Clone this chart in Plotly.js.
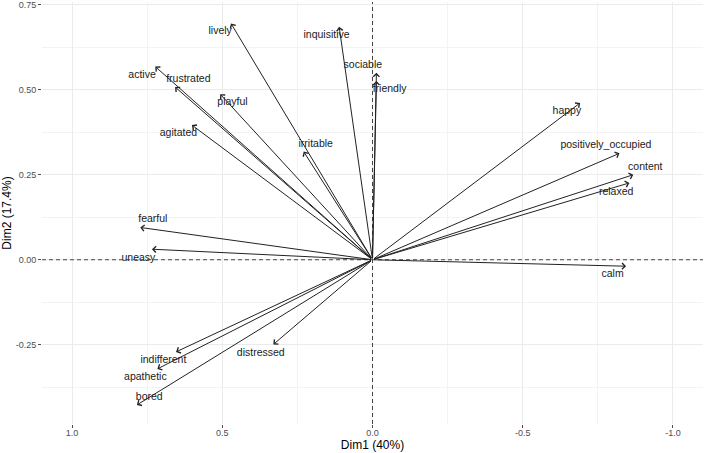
<!DOCTYPE html>
<html>
<head>
<meta charset="utf-8">
<script src="https://cdn.plot.ly/plotly-3.0.1.min.js"></script>
<style>
  html, body { margin: 0; padding: 0; background: #fff; }
  #pca { width: 708px; height: 453px; }
</style>
</head>
<body>
<div id="pca"></div>
<script>
// variable loadings on the first two dimensions (arrow tips)
var variables = ['lively', 'inquisitive', 'sociable', 'friendly', 'active', 'frustrated',
  'playful', 'agitated', 'irritable', 'fearful', 'uneasy', 'indifferent', 'apathetic',
  'bored', 'distressed', 'happy', 'positively_occupied', 'content', 'relaxed', 'calm'];
var dim1 = [0.471, 0.111, -0.013, -0.013, 0.723, 0.657, 0.507, 0.601, 0.229, 0.773,
  0.734, 0.654, 0.716, 0.784, 0.330, -0.691, -0.822, -0.868, -0.855, -0.844];
var dim2 = [0.695, 0.685, 0.550, 0.526, 0.568, 0.508, 0.487, 0.396, 0.318, 0.095,
  0.031, -0.271, -0.321, -0.427, -0.249, 0.461, 0.313, 0.250, 0.226, -0.019];

// where the (repelled) labels sit
var labelX = [0.507, 0.153, 0.032, -0.057, 0.767, 0.613, 0.466, 0.646, 0.189, 0.731,
  0.779, 0.696, 0.756, 0.743, 0.372, -0.647, -0.777, -0.908, -0.811, -0.799];
var labelY = [0.671, 0.660, 0.571, 0.500, 0.542, 0.529, 0.463, 0.371, 0.338, 0.118,
  0.003, -0.296, -0.346, -0.405, -0.276, 0.436, 0.335, 0.273, 0.199, -0.044];

var xTicks = [1.0, 0.5, 0.0, -0.5, -1.0];
var xTickText = ['1.0', '0.5', '0.0', '-0.5', '-1.0'];
var yTicks = [0.75, 0.5, 0.25, 0.0, -0.25];
var yTickText = ['0.75', '0.50', '0.25', '0.00', '-0.25'];
var xMinor = [0.75, 0.25, -0.25, -0.75];
var yMinor = [0.625, 0.375, 0.125, -0.125, -0.375];

var font = 'Liberation Sans, Arial, Helvetica, sans-serif';

var labels = {
  x: labelX,
  y: labelY,
  text: variables,
  mode: 'text',
  textposition: 'middle center',
  textfont: { family: font, size: 10.5, color: '#1a1a1a' },
  cliponaxis: false,
  hoverinfo: 'skip',
  showlegend: false
};

// arrows from the origin to each loading
var arrows = variables.map(function (v, i) {
  return {
    x: dim1[i], y: dim2[i], xref: 'x', yref: 'y',
    ax: 0, ay: 0, axref: 'x', ayref: 'y',
    text: '', showarrow: true,
    arrowhead: 4, arrowsize: 1.2, arrowwidth: 1,
    arrowcolor: '#222222', standoff: 0, startstandoff: 0
  };
});

var layout = {
  width: 708,
  height: 453,
  margin: { l: 42, r: 5, t: 2, b: 29 },
  paper_bgcolor: '#ffffff',
  plot_bgcolor: '#ffffff',
  font: { family: font },
  showlegend: false,
  xaxis: {
    range: [1.1, -1.1],
    tickmode: 'array',
    tickvals: xTicks,
    ticktext: xTickText,
    ticks: 'outside', ticklen: 3, tickcolor: '#4d4d4d', tickwidth: 1,
    ticklabelstandoff: -3,
    ticklabeloverflow: 'allow',
    tickfont: { family: font, size: 9, color: '#4d4d4d' },
    showgrid: true, gridcolor: '#ebebeb', gridwidth: 1,
    minor: { tickmode: 'array', tickvals: xMinor, showgrid: true, gridcolor: '#f3f3f3', gridwidth: 1, ticks: '' },
    zeroline: false, showline: false,
    title: { text: 'Dim1 (40%)', font: { family: font, size: 12, color: '#000' }, standoff: 0 }
  },
  yaxis: {
    range: [-0.483, 0.758],
    tickmode: 'array',
    tickvals: yTicks,
    ticktext: yTickText,
    ticks: 'outside', ticklen: 3, tickcolor: '#4d4d4d', tickwidth: 1,
    ticklabeloverflow: 'allow',
    tickfont: { family: font, size: 9, color: '#4d4d4d' },
    showgrid: true, gridcolor: '#ebebeb', gridwidth: 1,
    minor: { tickmode: 'array', tickvals: yMinor, showgrid: true, gridcolor: '#f3f3f3', gridwidth: 1, ticks: '' },
    zeroline: false, showline: false,
    title: { text: 'Dim2 (17.4%)', font: { family: font, size: 12, color: '#000' }, standoff: 3 }
  },
  shapes: [
    { type: 'line', xref: 'paper', yref: 'y', x0: 0, x1: 1, y0: 0, y1: 0,
      line: { color: '#444', width: 1, dash: '4px,3px' } },
    { type: 'line', xref: 'x', yref: 'paper', x0: 0, x1: 0, y0: 0, y1: 1,
      line: { color: '#444', width: 1, dash: '4px,3px' } }
  ],
  annotations: arrows
};

Plotly.newPlot('pca', [labels], layout, { displayModeBar: false, staticPlot: true });
</script>
</body>
</html>
